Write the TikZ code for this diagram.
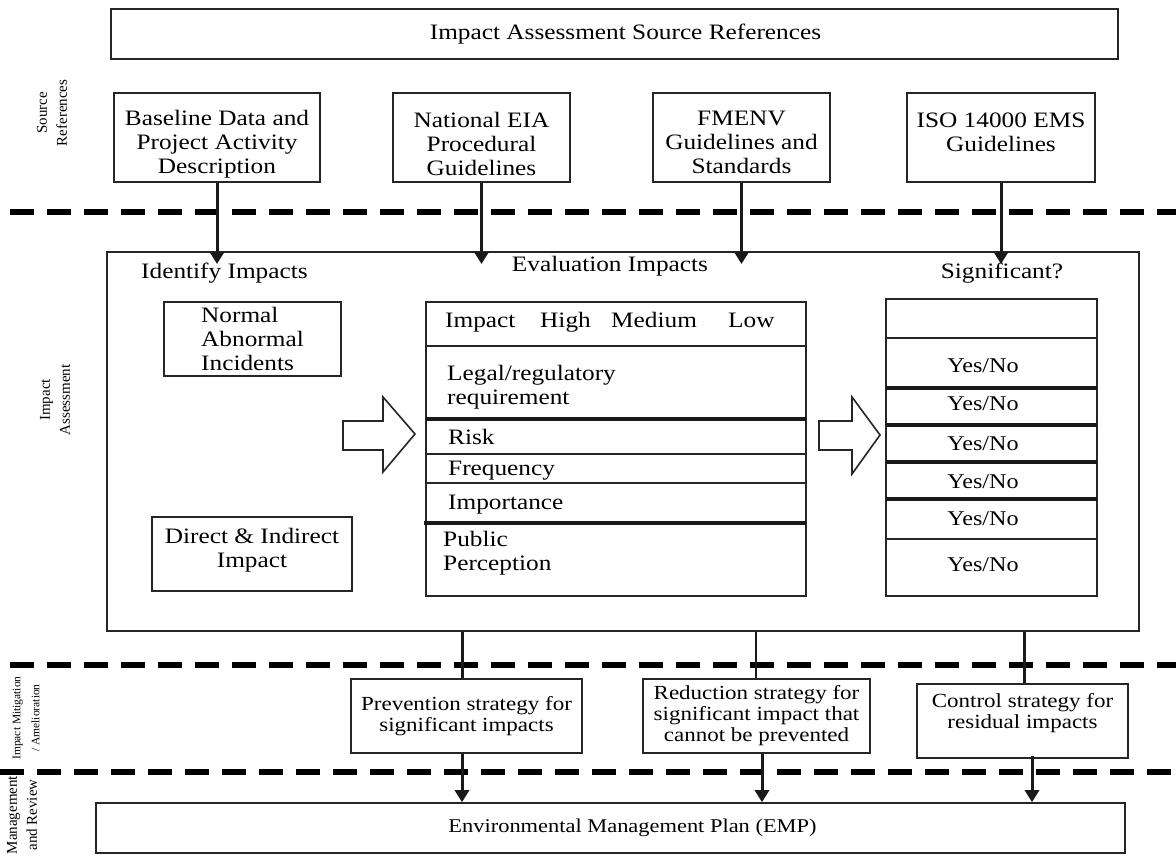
\documentclass[tikz,border=0pt]{standalone}
\usepackage{fontspec}
\setmainfont{Liberation Serif}[FakeStretch=1.15]
\newfontfamily\sidefont{Liberation Serif}
\usetikzlibrary{arrows.meta}
\newcommand\mainsz{\fontsize{22}{24}\selectfont}
\newcommand\stratsz{\fontsize{20}{21}\selectfont}
\begin{document}
\begin{tikzpicture}[x=1pt,y=-1pt,
  txt/.style={inner sep=0pt, font=\mainsz},
  boxtxt/.style={inner sep=0pt, align=center, font=\mainsz},
  box/.style={draw=black!85, line width=1.6pt, inner sep=0pt, align=center, font=\mainsz},
  stratbox/.style={box, font=\stratsz},
  frame/.style={draw=black!85, line width=2pt, inner sep=0pt},
  conn/.style={line width=3pt, draw=black!90},
  arr/.style={conn, -{Triangle[length=12pt,width=14pt]}},
  sepline/.style={line width=6pt, dash pattern=on 24pt off 13pt},
  row/.style={line width=2.2pt, draw=black!85},
  rowthick/.style={line width=3.2pt, draw=black!90},
  side/.style={inner sep=0pt, align=center, rotate=90, font=\sidefont\fontsize{15}{20}\selectfont},
  blockarr/.style={draw=black!85, line width=1.6pt, fill=white, line join=miter},
  yn/.style={inner sep=0pt, font=\fontsize{21}{24}\selectfont},
  sz/.style 2 args={minimum width=#1pt, minimum height=#2pt}]

\useasboundingbox (0,0) rectangle (1176,856);

% separators
\draw[sepline] (10,212) -- (1176,212);
\draw[sepline] (10,665) -- (1176,665);
\draw[sepline] (0,772) -- (1176,772);

% side labels
\node[side] (lsrc) at (52,113) {Source\\References};
\node[side] (lia) at (55,400) {Impact\\Assessment};
\node[side, font=\sidefont\fontsize{11.5}{19}\selectfont] (lmit) at (26,718) {Impact Mitigation\\/ Amelioration};
\node[side] (lmgt) at (22,815) {Management\\and Review};

% top
\node[box, sz={1007}{50}] (top) at (614.5,34) {\hspace*{22pt}Impact Assessment Source References};

% source boxes
\node[box, sz={206}{89}, label={[boxtxt, yshift=-7pt]center:{Baseline Data and\\Project Activity\\Description}}] (b1) at (217,137.5) {};
\node[box, sz={177}{89}, label={[boxtxt, yshift=-6pt]center:{National EIA\\Procedural\\Guidelines}}] (b2) at (481.5,137.5) {};
\node[box, sz={177}{89}, label={[boxtxt, yshift=-5pt]center:{FMENV\\Guidelines and\\Standards}}] (b3) at (741.5,137.5) {};
\node[box, sz={188}{89}, label={[boxtxt, yshift=-7pt]center:{ISO 14000 EMS\\Guidelines\\\mbox{}}}] (b4) at (1001,137.5) {};

% main frame
\node[frame, sz={1032}{379}] (main) at (623,441.5) {};
\coordinate (tip) at (0,264);
\draw[arr] (b1.south) -- (b1.south |- tip);
\draw[arr] (b2.south) -- (b2.south |- tip);
\draw[arr] (b3.south) -- (b3.south |- tip);
\draw[arr] (b4.south) -- (b4.south |- tip);

\node[txt, anchor=west] (idi) at (141,273) {Identify Impacts};
\node[txt] (evi) at (610,266) {Evaluation Impacts};
\node[txt] (sig) at (1002,273) {Significant?};

\node[box, align=left, sz={177}{74}] (norm) at (252.5,339) {Normal\\Abnormal\\Incidents};
\node[box, sz={200}{74}, label={[boxtxt, yshift=4pt]center:{Direct \& Indirect\\Impact}}] (dir) at (252,554) {};

% block arrows
\draw[blockarr] (343,421) -- (383,421) -- (383,397) -- (415,434) -- (383,472) -- (383,450) -- (343,450) -- cycle;
\draw[blockarr] (819,421) -- (852,421) -- (852,397) -- (880,435) -- (852,474) -- (852,450) -- (819,450) -- cycle;

% evaluation table
\node[frame, sz={380}{294}] (evtab) at (616,449) {};
\draw[row] (426,346) -- (806,346);
\draw[rowthick] (426,419) -- (806,419);
\draw[row] (426,454) -- (806,454);
\draw[row] (426,483) -- (806,483);
\draw[rowthick] (424,523) -- (806,523);
\node[txt, anchor=base west] (hImp) at (445,327) {Impact};
\node[txt, anchor=base west] (hHigh) at (540,327) {High};
\node[txt, anchor=base west] (hMed) at (611,327) {Medium};
\node[txt, anchor=base west] (hLow) at (728,327) {Low};
\node[txt, anchor=west, align=left] (rLeg) at (447,387) {Legal/regulatory\\requirement};
\node[txt, anchor=base west] (rRisk) at (448,444) {Risk};
\node[txt, anchor=base west] (rFreq) at (448,475) {Frequency};
\node[txt, anchor=base west] (rImp) at (448,509) {Importance};
\node[txt, anchor=west, align=left] (rPub) at (443,553) {Public\\Perception};

% significance table
\node[frame, sz={211}{297}] (sigtab) at (991.5,447.5) {};
\draw[row] (886,338) -- (1097,338);
\draw[rowthick] (886,388) -- (1097,388);
\draw[rowthick] (886,425) -- (1097,425);
\draw[rowthick] (886,462) -- (1097,462);
\draw[rowthick] (886,499) -- (1097,499);
\draw[row] (886,539) -- (1097,539);
\node[yn] (y1) at (983,366) {Yes/No};
\node[yn] (y2) at (983,404) {Yes/No};
\node[yn] (y3) at (983,444) {Yes/No};
\node[yn] (y4) at (983,482) {Yes/No};
\node[yn] (y5) at (983,519) {Yes/No};
\node[yn] (y6) at (983,565) {Yes/No};

% strategies
\node[stratbox, sz={231}{74}] (prev) at (466.5,716) {Prevention strategy for\\significant impacts};
\node[stratbox, sz={227}{74}] (red) at (756.5,716) {Reduction strategy for\\significant impact that\\cannot be prevented};
\node[stratbox, sz={211}{74}] (ctrl) at (1022.5,721) {Control strategy for\\residual impacts\\\mbox{}};

\node[box, font=\fontsize{19.5}{22}\selectfont, sz={1029}{50}] (emp) at (610.5,828) {\hspace*{44pt}Environmental Management Plan (EMP)};

\draw[conn] ([xshift=-4.5pt]prev.north |- main.south) -- ([xshift=-4.5pt]prev.north);
\draw[conn, line width=2.2pt] ([xshift=-0.5pt]red.north |- main.south) -- ([xshift=-0.5pt]red.north);
\draw[conn] ([xshift=1.5pt]ctrl.north |- main.south) -- ([xshift=1.5pt]ctrl.north);

\draw[arr] ([xshift=-4.5pt]prev.south) -- ([xshift=-4.5pt]prev.south |- emp.north);
\draw[arr] ([xshift=5.5pt]red.south) -- ([xshift=5.5pt]red.south |- emp.north);
\draw[arr] ([xshift=9.5pt,yshift=3pt]ctrl.south) -- ([xshift=9.5pt]ctrl.south |- emp.north);
\end{tikzpicture}
\end{document}
